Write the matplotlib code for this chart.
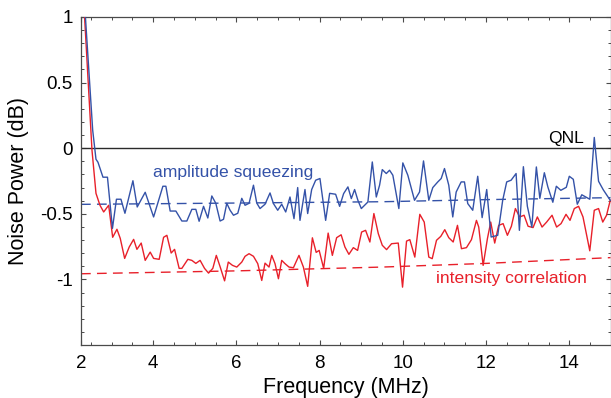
import matplotlib
matplotlib.use("Agg")
import matplotlib.pyplot as plt
from matplotlib.ticker import FixedLocator, MultipleLocator

plt.rcParams['font.family'] = ['Liberation Sans', 'DejaVu Sans']

# ---------------- data ----------------
freq_amp = [2.30, 2.37, 2.545, 2.624, 2.672, 2.792, 2.90, 3.02, 3.116, 3.224, 3.32, 3.512, 3.615, 3.807,
            4.009, 4.232, 4.304, 4.407, 4.544, 4.688, 4.808, 4.928, 5.024, 5.103, 5.209, 5.312, 5.408,
            5.504, 5.607, 5.689, 5.768, 5.847, 5.929, 6.032, 6.128, 6.207, 6.303, 6.409, 6.488, 6.567,
            6.687, 6.807, 6.889, 6.992, 7.088, 7.184, 7.287, 7.383, 7.472, 7.527, 7.647, 7.712, 7.808,
            7.904, 8.007, 8.144, 8.24, 8.384, 8.48, 8.576, 8.679, 8.761, 8.84, 8.919, 9.001, 9.159,
            9.265, 9.361, 9.44, 9.505, 9.601, 9.68, 9.759, 9.903, 9.999, 10.119, 10.28, 10.40, 10.496,
            10.623, 10.719, 10.839, 10.921, 11.0, 11.103, 11.199, 11.281, 11.401, 11.48, 11.559, 11.679,
            11.799, 11.905, 12.015, 12.121, 12.279, 12.399, 12.495, 12.601, 12.721, 12.80, 12.896,
            12.992, 13.10, 13.208, 13.292, 13.40, 13.484, 13.604, 13.688, 13.796, 13.928, 14.0, 14.096,
            14.192, 14.30, 14.492, 14.60, 14.703, 14.816, 14.984]
noise_amp = [1.40, 1.00, 0.137, -0.084, -0.107, -0.221, -0.221, -0.611, -0.389, -0.389, -0.496, -0.248,
             -0.448, -0.336, -0.524, -0.290, -0.290, -0.479, -0.479, -0.555, -0.555, -0.466, -0.466,
             -0.557, -0.443, -0.532, -0.364, -0.420, -0.555, -0.542, -0.420, -0.473, -0.511, -0.496,
             -0.382, -0.435, -0.420, -0.282, -0.418, -0.460, -0.427, -0.341, -0.422, -0.473, -0.427,
             -0.486, -0.372, -0.537, -0.300, -0.550, -0.315, -0.498, -0.315, -0.244, -0.231, -0.550,
             -0.344, -0.351, -0.443, -0.346, -0.295, -0.384, -0.315, -0.397, -0.460, -0.410, -0.105,
             -0.372, -0.282, -0.163, -0.193, -0.168, -0.206, -0.460, -0.112, -0.206, -0.397, -0.334,
             -0.097, -0.397, -0.300, -0.257, -0.231, -0.155, -0.282, -0.524, -0.334, -0.257, -0.257,
             -0.422, -0.473, -0.214, -0.529, -0.315, -0.677, -0.664, -0.397, -0.257, -0.244, -0.193,
             -0.626, -0.141, -0.443, -0.601, -0.143, -0.382, -0.187, -0.295, -0.412, -0.290, -0.321,
             -0.298, -0.214, -0.237, -0.427, -0.355, -0.389, 0.082, -0.252, -0.317, -0.397]

freq_int = [2.30, 2.35, 2.528, 2.624, 2.72, 2.809, 2.929, 3.025, 3.128, 3.207, 3.313, 3.423, 3.529, 3.608,
            3.711, 3.807, 3.927, 4.009, 4.143, 4.249, 4.328, 4.431, 4.513, 4.623, 4.688, 4.832, 4.928,
            5.024, 5.127, 5.233, 5.329, 5.432, 5.516, 5.612, 5.715, 5.804, 5.905, 6.008, 6.128, 6.207,
            6.303, 6.409, 6.512, 6.608, 6.687, 6.783, 6.848, 6.927, 7.009, 7.088, 7.167, 7.263, 7.369,
            7.503, 7.609, 7.712, 7.825, 7.916, 7.988, 8.096, 8.204, 8.305, 8.408, 8.516, 8.607, 8.703,
            8.809, 8.912, 9.008, 9.104, 9.207, 9.303, 9.409, 9.505, 9.608, 9.728, 9.889, 9.992, 10.088,
            10.167, 10.287, 10.407, 10.513, 10.623, 10.705, 10.808, 10.911, 11.007, 11.103, 11.209,
            11.312, 11.408, 11.528, 11.648, 11.768, 11.823, 11.929, 12.032, 12.111, 12.207, 12.303,
            12.409, 12.512, 12.608, 12.704, 12.807, 12.913, 13.009, 13.129, 13.232, 13.345, 13.455,
            13.585, 13.695, 13.801, 13.921, 14.017, 14.12, 14.223, 14.329, 14.408, 14.492, 14.60,
            14.703, 14.804, 14.895, 14.984]
noise_int = [1.40, 1.00, -0.015, -0.344, -0.435, -0.486, -0.435, -0.679, -0.618, -0.687, -0.840, -0.753,
             -0.695, -0.771, -0.723, -0.855, -0.792, -0.840, -0.847, -0.679, -0.664, -0.799, -0.771,
             -0.916, -0.916, -0.847, -0.855, -0.878, -0.855, -0.916, -0.952, -0.916, -0.817, -0.908,
             -1.011, -0.868, -0.893, -0.906, -0.868, -0.824, -0.804, -0.824, -0.880, -1.008, -0.876,
             -0.906, -0.817, -0.880, -0.995, -0.855, -0.880, -0.906, -0.911, -0.817, -0.906, -1.053,
             -0.683, -0.794, -0.779, -0.916, -0.647, -0.817, -0.682, -0.660, -0.753, -0.809, -0.758,
             -0.779, -0.639, -0.626, -0.715, -0.498, -0.651, -0.740, -0.773, -0.728, -0.723, -1.059,
             -0.708, -0.697, -0.830, -0.504, -0.563, -0.830, -0.842, -0.702, -0.672, -0.621, -0.682,
             -0.715, -0.588, -0.766, -0.758, -0.697, -0.550, -0.601, -0.893, -0.689, -0.563, -0.723,
             -0.588, -0.575, -0.664, -0.595, -0.460, -0.524, -0.511, -0.595, -0.605, -0.524, -0.601,
             -0.563, -0.511, -0.601, -0.575, -0.504, -0.550, -0.460, -0.443, -0.524, -0.649, -0.782,
             -0.473, -0.460, -0.563, -0.511, -0.397]

freq_fit = [2.264, 6.0, 9.5, 12.0, 14.99]
fit_amp = [-0.428, -0.418, -0.408, -0.392, -0.377]
fit_int = [-0.957, -0.935, -0.906, -0.878, -0.834]

x_major = [2.264, 4, 6, 8, 10, 12, 14]
x_labels = ['2', '4', '6', '8', '10', '12', '14']
y_major = [-1, -0.5, 0, 0.5, 1]
y_labels = ['-1', '-0.5', '0', '0.5', '1']

BLUE = '#3452a8'
RED = '#e8202a'
FRAME = '#4a4a4a'

# ---------------- figure ----------------
fig = plt.figure(figsize=(6.11, 3.98), dpi=100)
ax = fig.add_axes([81 / 611, 53 / 398, 529.5 / 611, 328 / 398])

ax.axhline(0, color='#2a2a2a', lw=1.0, zorder=2)
ax.plot(freq_fit, fit_amp, color=BLUE, lw=1.0, ls=(0, (7, 4.5)), zorder=2)
ax.plot(freq_fit, fit_int, color=RED, lw=1.0, ls=(0, (7, 4.5)), zorder=2)
ax.plot(freq_int, noise_int, color=RED, lw=1.0, zorder=3)
ax.plot(freq_amp, noise_amp, color=BLUE, lw=1.0, zorder=4)

ax.set_xlim(2.264, 14.99)
ax.set_ylim(-1.5, 1.0)

ax.xaxis.set_major_locator(FixedLocator(x_major))
ax.set_xticklabels(x_labels)
ax.xaxis.set_minor_locator(MultipleLocator(0.5))
ax.yaxis.set_major_locator(FixedLocator(y_major))
ax.set_yticklabels(y_labels)
ax.yaxis.set_minor_locator(MultipleLocator(0.1))

ax.tick_params(which='both', direction='in', top=True, right=True, color=FRAME,
               labelsize=13.5, labelcolor='black')
ax.tick_params(which='major', length=3.5, width=0.8)
ax.tick_params(which='minor', length=2.2, width=0.7)
ax.tick_params(axis='x', pad=7)
ax.tick_params(axis='y', pad=6)

for s in ax.spines.values():
    s.set_color(FRAME)
    s.set_linewidth(0.9)

ax.set_xlabel('Frequency (MHz)', fontsize=15.5, labelpad=4)
ax.set_ylabel('Noise Power (dB)', fontsize=15.5, labelpad=8)

ax.text(3.985, -0.221, 'amplitude squeezing', color=BLUE, fontsize=12.6,
        ha='left', va='baseline')
ax.text(10.80, -1.031, 'intensity correlation', color=RED, fontsize=12.6,
        ha='left', va='baseline')
ax.text(13.50, 0.040, 'QNL', color='black', fontsize=12.6, ha='left', va='baseline')

fig.savefig('out.png', dpi=100)
